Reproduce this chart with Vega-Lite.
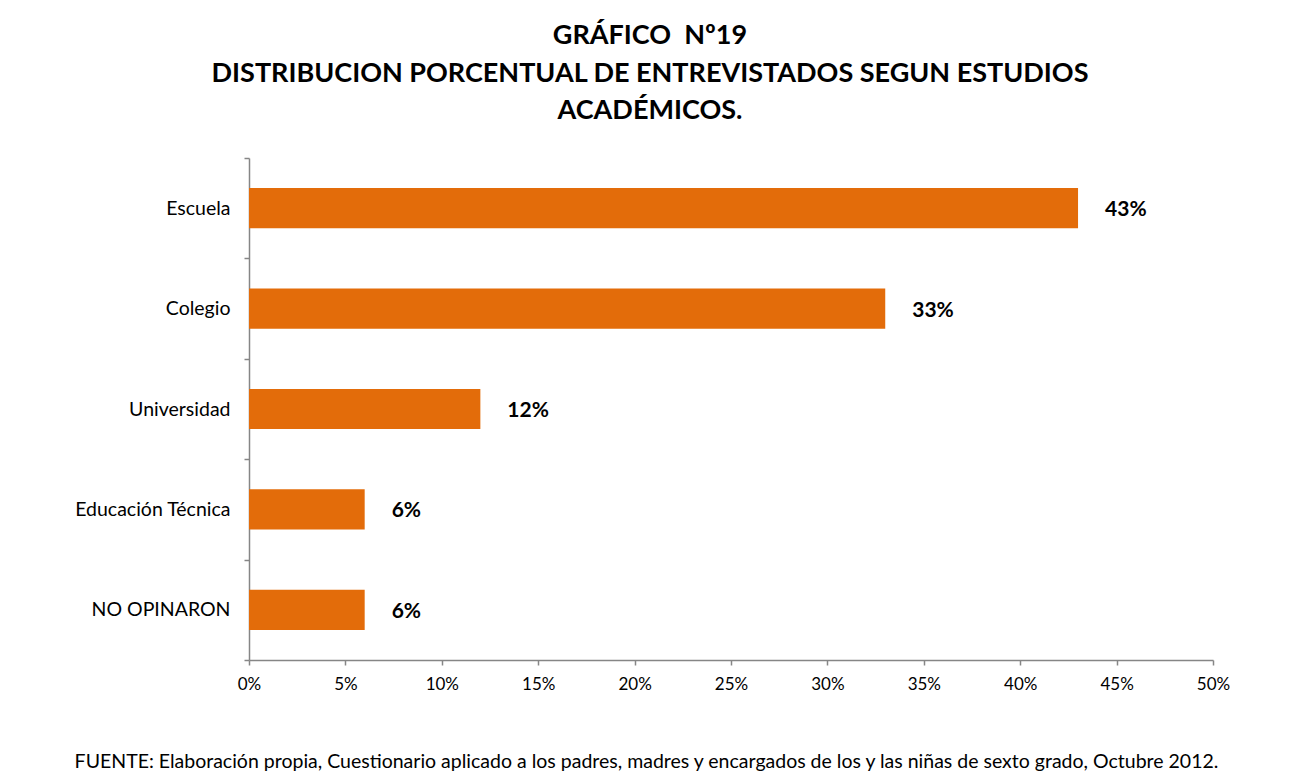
{
  "$schema": "https://vega.github.io/schema/vega-lite/v6.json",
  "autosize": {"type": "none"},
  "padding": {"left": 249, "top": 158, "right": 77, "bottom": 123},
  "width": 964,
  "height": 502,
  "background": "white",
  "config": {
    "font": "Lato",
    "view": {"stroke": null}
  },
  "title": {
    "text": ["GRÁFICO \u00a0Nº19", "DISTRIBUCION PORCENTUAL DE ENTREVISTADOS SEGUN ESTUDIOS", "ACADÉMICOS."],
    "font": "Lato",
    "fontSize": 27,
    "fontWeight": "bold",
    "color": "#000000",
    "lineHeight": 37.5,
    "anchor": "middle",
    "dx": -81,
    "offset": -4,
    "baseline": "bottom"
  },
  "data": {
    "values": [
      {"categoria": "Escuela", "valor": 0.43, "etiqueta": "43%"},
      {"categoria": "Colegio", "valor": 0.33, "etiqueta": "33%"},
      {"categoria": "Universidad", "valor": 0.12, "etiqueta": "12%"},
      {"categoria": "Educación Técnica", "valor": 0.06, "etiqueta": "6%"},
      {"categoria": "NO OPINARON", "valor": 0.06, "etiqueta": "6%"}
    ]
  },
  "encoding": {
    "y": {
      "field": "categoria",
      "type": "nominal",
      "sort": null,
      "scale": {"paddingInner": 0, "paddingOuter": 0},
      "axis": {
        "title": null,
        "tickBand": "extent",
        "tickSize": 5,
        "tickColor": "#868686",
        "domainColor": "#868686",
        "tickWidth": 1.5,
        "domainWidth": 1.5,
        "labelFont": "Lato",
        "labelFontSize": 19.5,
        "labelColor": "#000000",
        "labelPadding": 14
      }
    }
  },
  "layer": [
    {
      "mark": {"type": "bar", "color": "#E36C0A", "height": {"band": 0.4}},
      "encoding": {
        "x": {
          "field": "valor",
          "type": "quantitative",
          "scale": {"domain": [0, 0.5], "nice": false},
          "axis": {
            "format": ".0%",
            "values": [0, 0.05, 0.1, 0.15, 0.2, 0.25, 0.3, 0.35, 0.4, 0.45, 0.5],
            "grid": false,
            "labelFlush": false,
            "tickSize": 5,
            "tickColor": "#868686",
            "domainColor": "#868686",
            "tickWidth": 1.5,
            "domainWidth": 1.5,
            "labelFont": "Lato",
            "labelFontSize": 17,
            "labelColor": "#000000",
            "labelPadding": 11,
            "title": "FUENTE: Elaboración propia, Cuestionario aplicado a los padres, madres y encargados de los y las niñas de sexto grado, Octubre 2012.",
            "titleFont": "Lato",
            "titleFontSize": 19.5,
            "titleFontWeight": "normal",
            "titleColor": "#000000",
            "titleX": 397,
            "titleY": 107,
            "titleAlign": "center",
            "titleBaseline": "alphabetic"
          }
        }
      }
    },
    {
      "mark": {"type": "text", "align": "left", "baseline": "middle", "dx": 27, "dy": 2, "fontSize": 21, "fontWeight": "bold", "font": "Lato", "color": "#000000"},
      "encoding": {
        "x": {"field": "valor", "type": "quantitative"},
        "text": {"field": "etiqueta"}
      }
    }
  ]
}
